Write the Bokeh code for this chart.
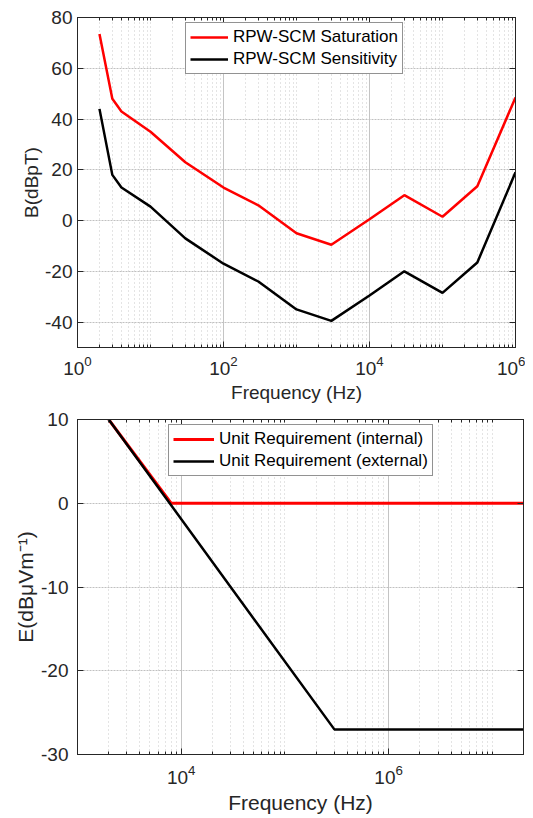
from bokeh.plotting import figure
from bokeh.models import (FixedTicker, LogAxis, LinearAxis, Legend, LegendItem,
                          Range1d, LogTickFormatter, CustomJSTickFormatter)
from bokeh.layouts import column
from bokeh.embed import file_html
from bokeh.resources import INLINE

# ---------------- data ----------------
freq_scm = [2, 3, 4, 10, 30, 100, 300, 1000, 3000, 10000, 30000, 100000, 300000, 1000000]
saturation = [73.5, 48, 43, 35, 23, 13, 6, -5, -9.5, 0.5, 10, 1.5, 13.5, 48.5]
sensitivity = [44, 18, 13, 5.5, -7, -17, -24, -35, -39.5, -29.5, -20, -28.5, -16.5, 19]

freq_int = [2e3, 8e3, 2e7]
e_internal = [10, 0, 0]
freq_ext = [2e3, 3e5, 2e7]
e_external = [10, -27, -27]

top_yticks = [-40, -20, 0, 20, 40, 60, 80]
top_xticks = [1, 1e2, 1e4, 1e6]
bot_yticks = [-30, -20, -10, 0, 10]
bot_xticks = [1e4, 1e6]

FONT = "Liberation Sans"
AX = "#262626"


def minors(lo_exp, hi_exp, majors, vmin, vmax):
    out = []
    for e in range(lo_exp, hi_exp + 1):
        for m in range(1, 10):
            v = m * 10.0 ** e
            if vmin <= v <= vmax and not any(abs(v - t) < 1e-9 * v for t in majors):
                out.append(v)
    return out


def style_axis(ax, fs, minor=True):
    ax.axis_line_color = AX
    ax.axis_line_width = 1
    ax.major_tick_in = 6
    ax.major_tick_out = 0
    ax.major_tick_line_color = AX
    ax.minor_tick_in = 3
    ax.minor_tick_out = 0
    ax.minor_tick_line_color = AX if minor else None
    ax.major_label_text_font = FONT
    ax.major_label_text_font_size = fs
    ax.major_label_text_color = AX
    ax.axis_label_text_font = FONT
    ax.axis_label_text_font_style = "normal"
    ax.axis_label_text_color = AX


def make(width, height, xr, yr, xt, xminor, yt, bl, br, bt, bb, tick_fs, lab_fs,
         xlabel, ylabel, xstand, ystand, ylabstand):
    p = figure(width=width, height=height, x_axis_type="log",
               x_range=Range1d(*xr), y_range=Range1d(*yr),
               output_backend="svg", toolbar_location=None,
               min_border_left=bl, min_border_right=br,
               min_border_top=bt, min_border_bottom=bb)
    p.background_fill_color = "white"
    p.border_fill_color = "white"
    p.outline_line_color = AX

    xtick = FixedTicker(ticks=xt, minor_ticks=xminor)
    ytick = FixedTicker(ticks=yt)
    p.xaxis.ticker = xtick
    p.yaxis.ticker = ytick
    p.xaxis.formatter = LogTickFormatter()
    p.yaxis.formatter = CustomJSTickFormatter(code="return tick.toFixed(0)")
    style_axis(p.xaxis[0], tick_fs, True)
    style_axis(p.yaxis[0], tick_fs, False)
    p.xaxis.axis_label = xlabel
    p.yaxis.axis_label = ylabel
    p.xaxis.axis_label_text_font_size = lab_fs
    p.yaxis.axis_label_text_font_size = lab_fs
    p.xaxis.major_label_standoff = xstand
    p.yaxis.major_label_standoff = ystand
    p.xaxis.axis_label_standoff = 4
    p.yaxis.axis_label_standoff = ylabstand

    empty = CustomJSTickFormatter(code="return ''")
    top = LogAxis(ticker=xtick, formatter=empty, major_label_standoff=0)
    style_axis(top, "1px", True)
    right = LinearAxis(ticker=ytick, formatter=empty, major_label_standoff=0)
    style_axis(right, "1px", False)
    p.add_layout(top, "above")
    p.add_layout(right, "right")

    p.xgrid.ticker = xtick
    p.ygrid.ticker = ytick
    p.xgrid.grid_line_color = "#c4c4c4"
    p.xgrid.grid_line_width = 1
    p.xgrid.minor_grid_line_color = "#c8c8c8"
    p.xgrid.minor_grid_line_dash = "1 3"
    p.ygrid.grid_line_color = "#c0c0c0"
    p.ygrid.grid_line_dash = "2 1"
    return p


# ---------------- top figure ----------------
p1 = make(525, 410, (1, 1e6), (-50, 80), top_xticks,
          minors(0, 5, top_xticks, 1, 1e6), top_yticks,
          72, 10, 17, 63, "19px", "19px", "Frequency (Hz)", "B(dBpT)", 8, 5, 0)
r_sat = p1.line(freq_scm, saturation, line_color="#ff0000", line_width=2.5)
r_sens = p1.line(freq_scm, sensitivity, line_color="black", line_width=2.5)
leg1 = Legend(items=[LegendItem(label="RPW-SCM Saturation", renderers=[r_sat]),
                     LegendItem(label="RPW-SCM Sensitivity", renderers=[r_sens])],
              location=(108, 273))
p1.add_layout(leg1)

# ---------------- bottom figure ----------------
p2 = make(533, 408, (1e3, 2e7), (-30, 10), bot_xticks,
          minors(3, 7, bot_xticks, 1e3, 2e7), bot_yticks,
          77, 8, 9, 64, "19px", "21px", "Frequency (Hz)", "E(dBμVm⁻¹)", 10, 9, 1)
r_int = p2.line(freq_int, e_internal, line_color="#ff0000", line_width=3)
r_ext = p2.line(freq_ext, e_external, line_color="black", line_width=2.5)
leg2 = Legend(items=[LegendItem(label="Unit Requirement (internal)", renderers=[r_int]),
                     LegendItem(label="Unit Requirement (external)", renderers=[r_ext])],
              location=(91, 278))
p2.add_layout(leg2)

for lg, gw in ((leg1, 38), (leg2, 41)):
    lg.label_text_font = FONT
    lg.label_text_font_size = "17px"
    lg.label_text_color = "black"
    lg.glyph_width = gw
    lg.glyph_height = 20
    lg.label_height = 20
    lg.label_standoff = 5
    lg.padding = 4
    lg.spacing = 2
    lg.margin = 0
    lg.border_line_color = AX
    lg.border_line_width = 1
    lg.background_fill_color = "white"
    lg.background_fill_alpha = 1

layout = column(p1, p2, spacing=0)
open("out.html", "w").write(file_html(layout, INLINE))
